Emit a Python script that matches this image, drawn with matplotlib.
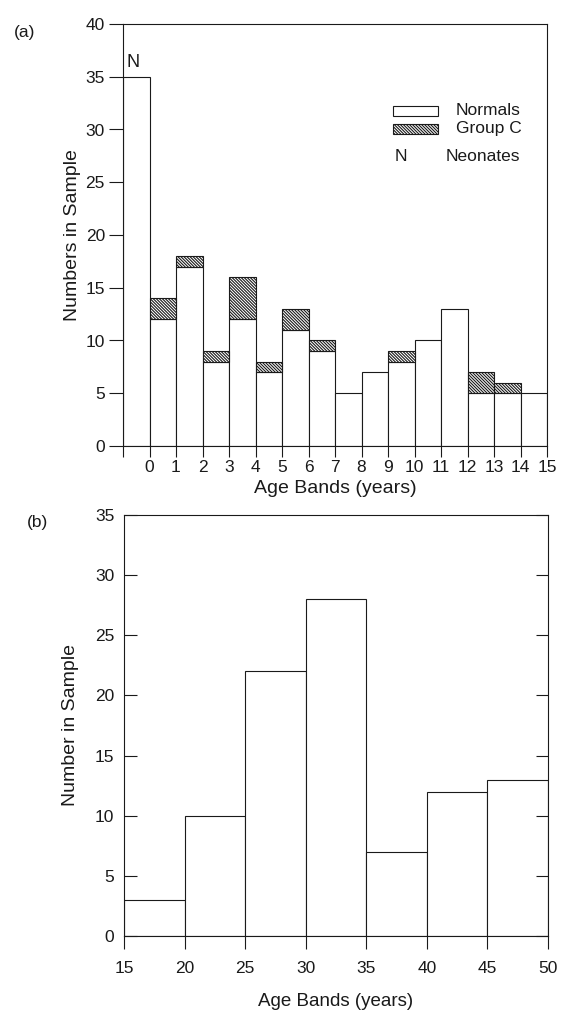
import matplotlib
matplotlib.use("Agg")
import matplotlib.pyplot as plt
from matplotlib.patches import Rectangle

plt.rcParams['font.family'] = ['Liberation Sans', 'DejaVu Sans']
plt.rcParams['hatch.linewidth'] = 0.8

# ---- data (a) ----
neonate_edge = [-1]
neonate_count = [35]
age_edges_a = list(range(0, 15))
normals = [12, 17, 8, 12, 7, 11, 9, 5, 7, 8, 10, 13, 5, 5, 5]
group_c = [2, 1, 1, 4, 1, 2, 1, 0, 0, 1, 0, 0, 2, 1, 0]
xticks_a = list(range(-1, 16))
xticklabels_a = [''] + [str(i) for i in range(0, 16)]
yticks_a = [0, 5, 10, 15, 20, 25, 30, 35, 40]

# ---- data (b) ----
age_edges_b = [15, 20, 25, 30, 35, 40, 45]
counts_b = [3, 10, 22, 28, 7, 12, 13]
xticks_b = [15, 20, 25, 30, 35, 40, 45, 50]
yticks_b = [0, 5, 10, 15, 20, 25, 30, 35]

ink = '#1a1a1a'
lw = 0.8
HATCH = '\\' * 11
tick_fs = 12.5
lab_fs = 14

fig = plt.figure(figsize=(5.68, 10.22), dpi=100)

# ---------- panel (a) ----------
ax1 = fig.add_axes([123/568, 1-446/1022, 424/568, 422/1022])
ax1.bar(neonate_edge, neonate_count, width=1, align='edge',
        facecolor='white', edgecolor=ink, linewidth=lw)
ax1.bar(age_edges_a, normals, width=1, align='edge',
        facecolor='white', edgecolor=ink, linewidth=lw)
gc_x = [x for x, g in zip(age_edges_a, group_c) if g > 0]
gc_h = [g for g in group_c if g > 0]
gc_b = [n for n, g in zip(normals, group_c) if g > 0]
ax1.bar(gc_x, gc_h, width=1, align='edge', bottom=gc_b,
        facecolor='white', edgecolor=ink, linewidth=lw, hatch=HATCH)
ax1.set_xlim(-1, 15)
ax1.set_ylim(0, 40)
ax1.set_xticks(xticks_a)
ax1.set_xticklabels(xticklabels_a)
ax1.set_yticks(yticks_a)
ax1.tick_params(axis='y', direction='out', length=10, width=lw,
                colors=ink, labelsize=tick_fs, pad=3)
ax1.tick_params(axis='x', direction='out', length=8, width=lw,
                colors=ink, labelsize=tick_fs, pad=2)
for s in ax1.spines.values():
    s.set_linewidth(lw)
    s.set_color(ink)
ax1.set_xlabel('Age Bands (years)', fontsize=lab_fs, color=ink, labelpad=4)
ax1.set_ylabel('Numbers in Sample', fontsize=lab_fs, color=ink, labelpad=3)
ax1.text(neonate_edge[0] + 0.12, neonate_count[0] + 0.5, 'N', fontsize=13,
         color=ink, ha='left', va='bottom')

# legend drawn manually
tr = ax1.transAxes
ax1.add_patch(Rectangle((0.637, 0.782), 0.105, 0.024, transform=tr,
                        facecolor='white', edgecolor=ink, linewidth=lw))
ax1.add_patch(Rectangle((0.637, 0.740), 0.105, 0.024, transform=tr,
                        facecolor='white', edgecolor=ink, linewidth=lw,
                        hatch=HATCH))
ax1.text(0.785, 0.794, 'Normals', transform=tr, fontsize=12.5, color=ink,
         va='center', ha='left')
ax1.text(0.785, 0.752, 'Group C', transform=tr, fontsize=12.5, color=ink,
         va='center', ha='left')
ax1.text(0.640, 0.686, 'N', transform=tr, fontsize=12.5, color=ink,
         va='center', ha='left')
ax1.text(0.762, 0.686, 'Neonates', transform=tr, fontsize=12.5, color=ink,
         va='center', ha='left')
fig.text(14/568, 1-33/1022, '(a)', fontsize=12.5, color=ink, va='center')

# ---------- panel (b) ----------
ax2 = fig.add_axes([124/568, 1-936/1022, 424/568, 421/1022])
ax2.bar(age_edges_b, counts_b, width=5, align='edge',
        facecolor='white', edgecolor=ink, linewidth=lw)
ax2.set_xlim(15, 50)
ax2.set_ylim(0, 35)
ax2.set_xticks(xticks_b)
ax2.set_yticks(yticks_b)
ax2.tick_params(axis='y', direction='in', length=9, width=lw, colors=ink,
                labelsize=tick_fs, right=True, pad=7)
ax2.tick_params(axis='x', direction='out', length=9, width=lw, colors=ink,
                labelsize=tick_fs, pad=9)
for s in ax2.spines.values():
    s.set_linewidth(lw)
    s.set_color(ink)
ax2.set_xlabel('Age Bands (years)', fontsize=13.5, color=ink, labelpad=12)
ax2.set_ylabel('Number in Sample', fontsize=lab_fs, color=ink, labelpad=11)
fig.text(27/568, 1-523/1022, '(b)', fontsize=12.5, color=ink, va='center')

fig.savefig('out.png', dpi=100, facecolor='white')
